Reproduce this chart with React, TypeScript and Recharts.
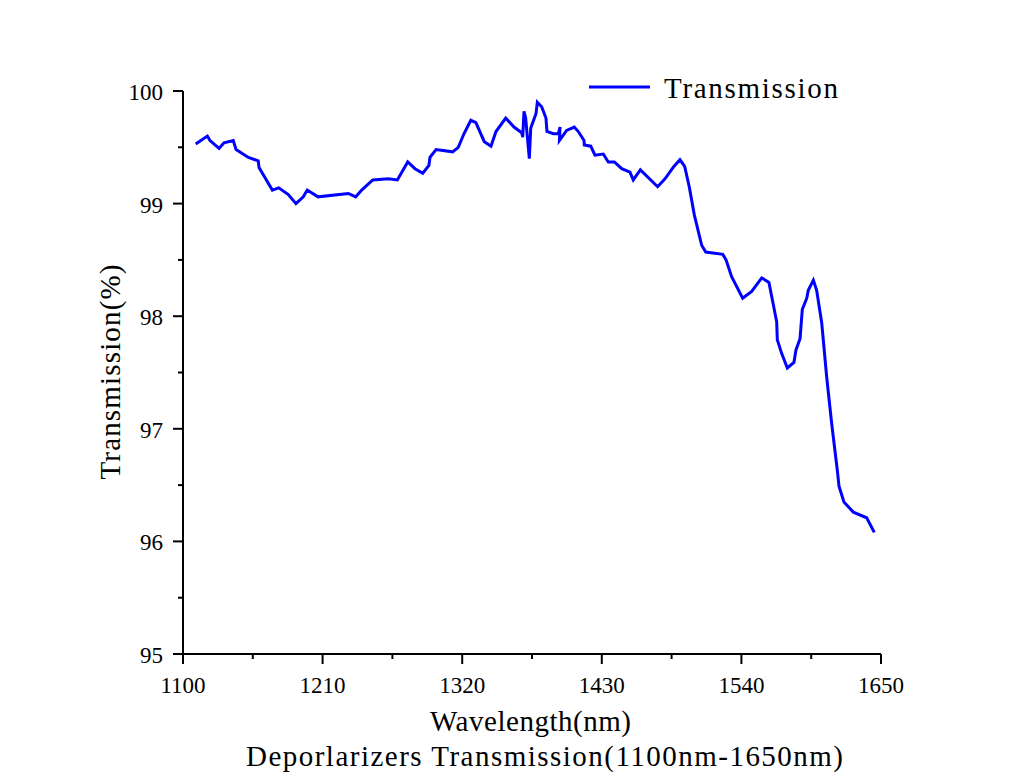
import React from 'react';
import { LineChart, Line, XAxis, YAxis, Legend } from 'recharts';

// wavelength (nm) and transmission (%)
const wavelength = [
  1110.0, 1119.2, 1121.3, 1128.4, 1132.3, 1139.6, 1141.8, 1151.5, 1159.3, 1159.9,
  1170.4, 1175.4, 1183.0, 1189.0, 1194.8, 1197.9, 1206.4, 1230.3, 1236.1, 1240.8,
  1249.5, 1261.8, 1268.9, 1277.1, 1282.8, 1288.9, 1293.8, 1294.6, 1299.4, 1312.5,
  1316.9, 1321.4, 1326.8, 1330.8, 1337.4, 1342.7, 1346.6, 1354.3, 1360.8, 1366.9,
  1367.7, 1368.7, 1370.0, 1372.9, 1374.0, 1378.2, 1379.2, 1382.6, 1386.0, 1386.8,
  1391.8, 1395.7, 1397.1, 1396.6, 1402.3, 1408.3, 1411.5, 1416.0, 1416.2, 1421.3,
  1424.6, 1431.2, 1435.1, 1439.9, 1445.7, 1452.2, 1454.8, 1460.4, 1474.0, 1479.8,
  1486.8, 1491.6, 1495.3, 1498.9, 1502.9, 1508.7, 1511.9, 1525.3, 1527.9, 1532.3,
  1541.0, 1548.1, 1556.0, 1561.7, 1567.8, 1568.3, 1571.7, 1576.2, 1581.4, 1583.0,
  1586.2, 1588.0, 1591.5, 1592.7, 1596.7, 1599.3, 1603.3, 1607.2, 1611.1, 1615.6,
  1616.9, 1620.8, 1628.2, 1638.7, 1644.7,
];

const transmission = [
  99.53, 99.60, 99.56, 99.49, 99.54, 99.56, 99.48, 99.41, 99.38, 99.32,
  99.12, 99.14, 99.08, 99.00, 99.06, 99.12, 99.06, 99.09, 99.06, 99.12,
  99.21, 99.22, 99.21, 99.37, 99.31, 99.27, 99.34, 99.41, 99.48, 99.46,
  99.50, 99.62, 99.74, 99.72, 99.55, 99.51, 99.64, 99.76, 99.68, 99.63,
  99.59, 99.82, 99.76, 99.40, 99.67, 99.80, 99.90, 99.86, 99.76, 99.64,
  99.62, 99.62, 99.68, 99.56, 99.65, 99.68, 99.64, 99.56, 99.52, 99.51,
  99.43, 99.44, 99.37, 99.37, 99.31, 99.28, 99.21, 99.30, 99.15, 99.22,
  99.33, 99.39, 99.33, 99.15, 98.90, 98.63, 98.57, 98.55, 98.50, 98.35,
  98.16, 98.22, 98.34, 98.30, 97.95, 97.79, 97.67, 97.54, 97.59, 97.70,
  97.80, 98.06, 98.16, 98.23, 98.32, 98.23, 97.94, 97.46, 97.05, 96.63,
  96.49, 96.35, 96.26, 96.21, 96.08,
];

const xMajorTicks = [1100, 1210, 1320, 1430, 1540, 1650];
const xAllTicks = [1100, 1155, 1210, 1265, 1320, 1375, 1430, 1485, 1540, 1595, 1650];
const yMajorTicks = [95, 96, 97, 98, 99, 100];
const yAllTicks = [95, 95.5, 96, 96.5, 97, 97.5, 98, 98.5, 99, 99.5, 100];

const data = wavelength.map((w, i) => ({ wavelength: w, transmission: transmission[i] }));

const SERIF = '"Liberation Serif", "Times New Roman", serif';

const XTick = ({ x, y, payload }: any) => {
  const major = xMajorTicks.includes(payload.value);
  return (
    <g>
      <line x1={x} y1={y} x2={x} y2={y + (major ? 10 : 5)} stroke="#000" strokeWidth={2} />
      {major && (
        <text x={x} y={y + 39} textAnchor="middle" fontFamily={SERIF} fontSize={23} fill="#000">
          {payload.value}
        </text>
      )}
    </g>
  );
};

const YTick = ({ x, y, payload }: any) => {
  const major = yMajorTicks.includes(payload.value);
  return (
    <g>
      <line x1={x - (major ? 10 : 5)} y1={y} x2={x} y2={y} stroke="#000" strokeWidth={2} />
      {major && (
        <text x={x - 20} y={y + 9} textAnchor="end" fontFamily={SERIF} fontSize={23} fill="#000">
          {payload.value}
        </text>
      )}
    </g>
  );
};

const renderLegend = () => (
  <svg width={270} height={40}>
    <line x1={4} y1={19} x2={65} y2={19} stroke="#0000FF" strokeWidth={3} />
    <text x={79} y={30} fontFamily={SERIF} fontSize={29} fill="#000" textLength={174} lengthAdjust="spacing">
      Transmission
    </text>
  </svg>
);

export default function App() {
  return (
    <div style={{ position: 'absolute', left: 0, top: 0, width: 1024, height: 784, background: '#fff' }}>
      <LineChart
        width={1024}
        height={784}
        data={data}
        margin={{ top: 91, right: 143, bottom: 80, left: 123 }}
      >
        <XAxis
          dataKey="wavelength"
          type="number"
          domain={[1100, 1650]}
          ticks={xAllTicks}
          interval={0}
          height={50}
          tickSize={0}
          tickMargin={0}
          tickLine={false}
          axisLine={{ stroke: '#000', strokeWidth: 2 }}
          tick={<XTick />}
        />
        <YAxis
          type="number"
          domain={[95, 100]}
          ticks={yAllTicks}
          interval={0}
          width={60}
          tickSize={0}
          tickMargin={0}
          tickLine={false}
          axisLine={{ stroke: '#000', strokeWidth: 2 }}
          tick={<YTick />}
        />
        <Legend
          layout="horizontal"
          verticalAlign="middle"
          align="center"
          content={renderLegend}
          wrapperStyle={{ left: 585, top: 68, width: 270, height: 40 }}
        />
        <Line
          dataKey="transmission"
          type="linear"
          stroke="#0000FF"
          strokeWidth={3}
          dot={false}
          activeDot={false}
          isAnimationActive={false}
        />
      </LineChart>
      <svg
        width={1024}
        height={784}
        style={{ position: 'absolute', left: 0, top: 0, pointerEvents: 'none' }}
      >
        <text
          x={110}
          y={372}
          transform="rotate(-90 110 372)"
          textAnchor="middle"
          dominantBaseline="central"
          fontFamily={SERIF}
          fontSize={29}
          fill="#000"
          textLength={215}
          lengthAdjust="spacing"
        >
          Transmission(%)
        </text>
        <text
          x={530.5}
          y={731}
          textAnchor="middle"
          fontFamily={SERIF}
          fontSize={29}
          fill="#000"
          textLength={201}
          lengthAdjust="spacing"
        >
          Wavelength(nm)
        </text>
        <text
          x={544.5}
          y={766}
          textAnchor="middle"
          fontFamily={SERIF}
          fontSize={29}
          fill="#000"
          textLength={597}
          lengthAdjust="spacing"
        >
          Deporlarizers Transmission(1100nm-1650nm)
        </text>
      </svg>
    </div>
  );
}
